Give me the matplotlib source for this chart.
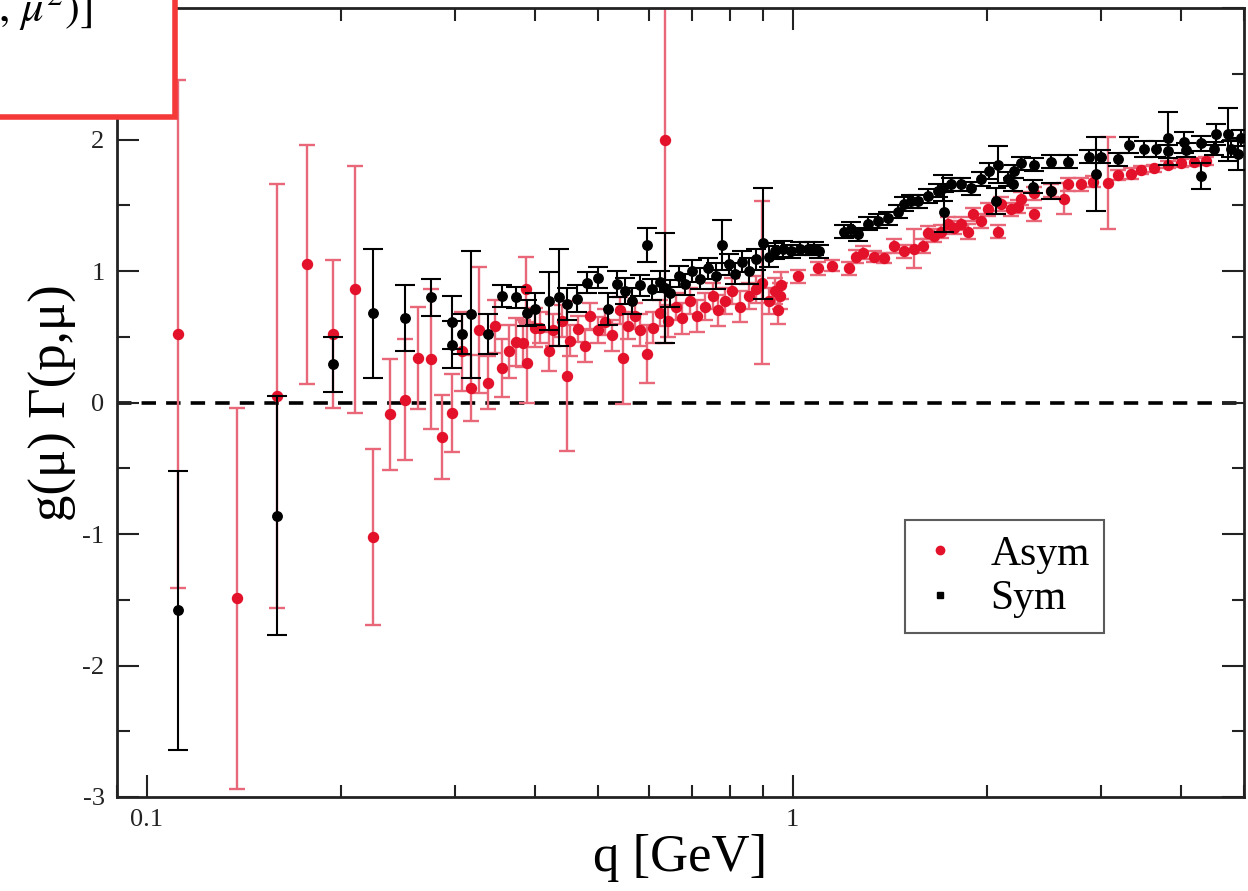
import matplotlib
matplotlib.use("Agg")
import matplotlib.pyplot as plt
from matplotlib.lines import Line2D
from matplotlib.patches import Rectangle
from matplotlib.ticker import LogLocator, NullFormatter, FixedLocator, MultipleLocator

plt.rcParams['font.family'] = ['Liberation Serif', 'DejaVu Serif']
plt.rcParams['mathtext.fontset'] = 'stix'
plt.rcParams['axes.unicode_minus'] = False

# Asym (red)
asym_q = [0.112, 0.138, 0.159, 0.177, 0.194, 0.210, 0.224, 0.238, 0.251, 0.263,
          0.276, 0.287, 0.297, 0.308, 0.318, 0.327, 0.338, 0.346, 0.355, 0.364,
          0.373, 0.383, 0.386, 0.388, 0.400, 0.407, 0.419, 0.426, 0.440, 0.448,
          0.453, 0.466, 0.478, 0.486, 0.499, 0.513, 0.526, 0.541, 0.547, 0.557,
          0.571, 0.581, 0.596, 0.609, 0.624, 0.635, 0.642, 0.659, 0.675, 0.695,
          0.712, 0.733, 0.752, 0.768, 0.787, 0.807, 0.830, 0.855, 0.877, 0.898,
          0.918, 0.938, 0.951, 0.958, 0.961, 1.018, 1.094, 1.153, 1.222, 1.253,
          1.285, 1.336, 1.384, 1.435, 1.486, 1.541, 1.592, 1.620, 1.656, 1.696,
          1.739, 1.777, 1.821, 1.866, 1.901, 1.956, 2.005, 2.079, 2.100, 2.178,
          2.234, 2.256, 2.364, 2.364, 2.512, 2.632, 2.669, 2.796, 2.918, 3.079,
          3.190, 3.342, 3.464, 3.631, 3.812, 3.996, 4.185, 4.370]
asym_v = [0.52, -1.49, 0.05, 1.05, 0.52, 0.86, -1.02, -0.09, 0.02, 0.34,
          0.33, -0.26, -0.08, 0.39, 0.11, 0.55, 0.15, 0.58, 0.26, 0.39,
          0.46, 0.45, 0.86, 0.30, 0.57, 0.57, 0.39, 0.55, 0.62, 0.20,
          0.47, 0.56, 0.43, 0.66, 0.55, 0.61, 0.51, 0.70, 0.34, 0.58,
          0.66, 0.55, 0.37, 0.57, 0.68, 2.00, 0.62, 0.73, 0.64, 0.77,
          0.66, 0.73, 0.81, 0.70, 0.77, 0.85, 0.73, 0.81, 0.86, 0.91,
          0.77, 0.85, 0.70, 0.81, 0.89, 0.96, 1.02, 1.04, 1.02, 1.11,
          1.14, 1.11, 1.10, 1.19, 1.15, 1.17, 1.19, 1.29, 1.27, 1.30,
          1.36, 1.33, 1.36, 1.30, 1.43, 1.38, 1.47, 1.30, 1.51, 1.47,
          1.49, 1.55, 1.43, 1.59, 1.61, 1.55, 1.66, 1.66, 1.68, 1.67,
          1.73, 1.74, 1.77, 1.78, 1.81, 1.82, 1.83, 1.84]
asym_e = [1.93, 1.45, 1.61, 0.91, 0.56, 0.94, 0.67, 0.42, 0.46, 0.39,
          0.53, 0.32, 0.30, 0.30, 0.25, 0.48, 0.20, 0.20, 0.22, 0.20,
          0.18, 0.18, 0.25, 0.30, 0.15, 0.12, 0.15, 0.12, 0.12, 0.57,
          0.12, 0.10, 0.12, 0.10, 0.10, 0.10, 0.12, 0.10, 0.35, 0.10,
          0.10, 0.12, 0.22, 0.12, 0.10, 1.55, 0.12, 0.10, 0.12, 0.10,
          0.12, 0.10, 0.10, 0.12, 0.10, 0.10, 0.12, 0.10, 0.10, 0.62,
          0.10, 0.10, 0.10, 0.10, 0.10, 0.05, 0.05, 0.04, 0.05, 0.05,
          0.05, 0.04, 0.04, 0.05, 0.05, 0.15, 0.05, 0.05, 0.05, 0.05,
          0.05, 0.05, 0.05, 0.06, 0.05, 0.05, 0.05, 0.05, 0.05, 0.05,
          0.05, 0.05, 0.05, 0.05, 0.05, 0.12, 0.05, 0.05, 0.04, 0.35,
          0.04, 0.04, 0.03, 0.03, 0.03, 0.03, 0.03, 0.03]

# Sym (black)
sym_q = [0.112, 0.159, 0.194, 0.224, 0.251, 0.276, 0.297, 0.297, 0.308, 0.318,
         0.338, 0.355, 0.373, 0.388, 0.400, 0.419, 0.435, 0.448, 0.464, 0.481,
         0.500, 0.518, 0.535, 0.551, 0.565, 0.581, 0.596, 0.607, 0.624, 0.635,
         0.647, 0.666, 0.682, 0.700, 0.720, 0.741, 0.760, 0.779, 0.796, 0.816,
         0.836, 0.855, 0.877, 0.899, 0.918, 0.941, 0.965, 0.993, 1.028, 1.055,
         1.079, 1.097, 1.200, 1.230, 1.262, 1.307, 1.355, 1.404, 1.455, 1.486,
         1.524, 1.562, 1.620, 1.680, 1.710, 1.714, 1.758, 1.821, 1.887, 1.956,
         2.011, 2.064, 2.079, 2.154, 2.193, 2.203, 2.256, 2.354, 2.364, 2.512,
         2.512, 2.669, 2.877, 2.951, 3.004, 3.190, 3.319, 3.500, 3.656, 3.812,
         3.812, 4.037, 4.065, 4.293, 4.293, 4.527, 4.495, 4.723, 4.777, 4.896,
         4.951]
sym_v = [-1.58, -0.86, 0.29, 0.68, 0.64, 0.80, 0.61, 0.44, 0.52, 0.67,
         0.52, 0.81, 0.80, 0.68, 0.71, 0.77, 0.80, 0.75, 0.79, 0.91,
         0.95, 0.71, 0.90, 0.85, 0.77, 0.89, 1.20, 0.86, 0.92, 0.87,
         0.83, 0.96, 0.90, 1.00, 0.94, 1.02, 0.96, 1.20, 1.05, 0.98,
         1.07, 1.00, 1.09, 1.21, 1.11, 1.15, 1.17, 1.15, 1.17, 1.17,
         1.17, 1.15, 1.30, 1.32, 1.28, 1.36, 1.38, 1.40, 1.45, 1.51,
         1.53, 1.53, 1.57, 1.61, 1.63, 1.45, 1.66, 1.66, 1.63, 1.70,
         1.76, 1.53, 1.81, 1.70, 1.66, 1.76, 1.82, 1.64, 1.81, 1.83,
         1.61, 1.83, 1.87, 1.74, 1.87, 1.85, 1.96, 1.93, 1.93, 2.01,
         1.91, 1.98, 1.92, 1.97, 1.72, 2.04, 1.93, 2.04, 1.93, 1.89,
         2.01]
sym_e = [1.06, 0.91, 0.21, 0.49, 0.25, 0.14, 0.20, 0.18, 0.15, 0.48,
         0.15, 0.08, 0.08, 0.10, 0.12, 0.22, 0.37, 0.12, 0.10, 0.08,
         0.08, 0.12, 0.10, 0.10, 0.10, 0.08, 0.13, 0.08, 0.08, 0.42,
         0.10, 0.08, 0.08, 0.08, 0.08, 0.08, 0.10, 0.19, 0.08, 0.08,
         0.08, 0.10, 0.08, 0.42, 0.08, 0.06, 0.06, 0.05, 0.05, 0.05,
         0.05, 0.05, 0.05, 0.05, 0.05, 0.05, 0.05, 0.05, 0.05, 0.05,
         0.05, 0.05, 0.05, 0.05, 0.10, 0.15, 0.05, 0.05, 0.05, 0.05,
         0.06, 0.10, 0.14, 0.05, 0.05, 0.05, 0.05, 0.05, 0.05, 0.05,
         0.06, 0.05, 0.05, 0.28, 0.05, 0.05, 0.06, 0.06, 0.06, 0.20,
         0.05, 0.08, 0.05, 0.06, 0.10, 0.08, 0.05, 0.20, 0.06, 0.12,
         0.06]

red = '#e3122a'
red_bar = '#e8687a'

fig = plt.figure(figsize=(12.48, 8.91), dpi=100)
ax = fig.add_axes([0.0938, 0.1055, 0.9030, 0.8855])

ax.axhline(0, color='black', lw=2.6, ls=(0, (4, 2.8)), zorder=1)

ax.errorbar(asym_q, asym_v, yerr=asym_e, fmt='none', ecolor=red_bar,
            elinewidth=1.7, capsize=6, capthick=1.7, zorder=2)
ax.plot(asym_q, asym_v, 'o', color=red, ms=7.2, mec=red, zorder=3)

ax.errorbar(sym_q, sym_v, yerr=sym_e, fmt='none', ecolor='black',
            elinewidth=1.5, capsize=7.5, capthick=1.5, zorder=4)
ax.plot(sym_q, sym_v, 'o', color='black', ms=6.8, zorder=5)

ax.set_xscale('log')
ax.set_xlim(0.09, 5.0)
ax.set_ylim(-3, 3)

ax.xaxis.set_major_locator(FixedLocator([0.1, 1]))
ax.set_xticklabels(['0.1', '1'])
ax.xaxis.set_minor_locator(LogLocator(base=10, subs=range(2, 10)))
ax.xaxis.set_minor_formatter(NullFormatter())
ax.yaxis.set_minor_locator(MultipleLocator(0.5))
ax.set_yticks([-3, -2, -1, 0, 1, 2, 3])
ax.set_yticklabels(['-3', '-2', '-1', '0', '1', '2', '3'])

ax.tick_params(which='both', direction='in', top=True, right=True,
               width=1.5, labelsize=19, pad=9, colors='#222222')
ax.tick_params(which='major', length=16)
ax.tick_params(which='minor', length=9)
for sp in ax.spines.values():
    sp.set_linewidth(2.0)
    sp.set_color('#222222')

ax.set_xlabel('q [GeV]', fontsize=38, labelpad=2)
ax.set_ylabel('g(μ) Γ(p,μ)', fontsize=38, labelpad=4)

handles = [Line2D([], [], ls='none', marker='o', color=red, ms=6),
           Line2D([], [], ls='none', marker='s', color='black', ms=4.5)]
leg = ax.legend(handles, ['Asym', 'Sym'], loc='lower left',
                bbox_to_anchor=(0.699, 0.208), fontsize=30, frameon=True,
                fancybox=False, edgecolor='#333333', handlelength=1.0,
                handletextpad=0.7, labelspacing=0.15, borderpad=0.35,
                borderaxespad=0)
leg.get_frame().set_linewidth(1.5)

# red-framed box cut at the top-left corner
fig.add_artist(Rectangle((-0.01, 1 - 117 / 891), 0.01 + 175 / 1248, 117 / 891 + 0.01,
                         transform=fig.transFigure, facecolor='white',
                         edgecolor='#f53838', lw=4, zorder=10))
fig.text(-0.002, 1 - 21 / 891, r'$,\,\mu^{2})]$', fontsize=32, zorder=11,
         ha='left', va='baseline')

fig.savefig('out.png', dpi=100)
